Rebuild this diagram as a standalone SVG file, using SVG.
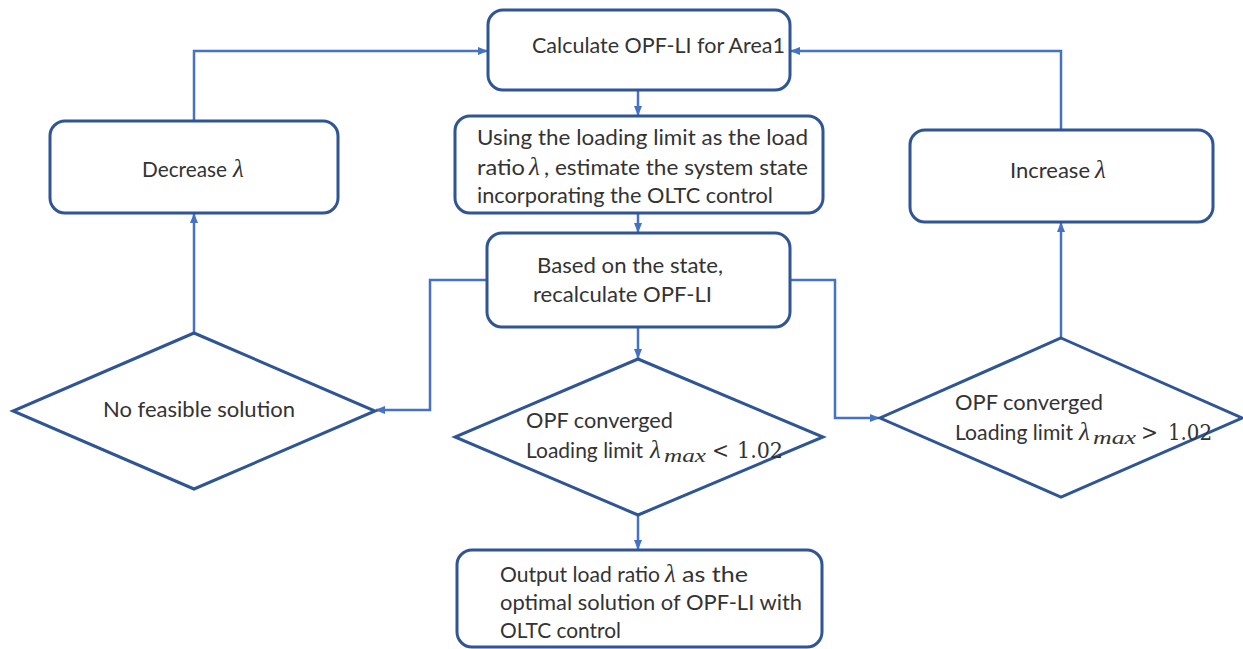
<svg xmlns="http://www.w3.org/2000/svg" width="1243" height="649" viewBox="0 0 1243 649">
  <style>
    .box { fill: #ffffff; stroke: #2F5597; stroke-width: 3; }
    .conn { fill: none; stroke: #4472C4; stroke-width: 2.5; marker-end: url(#arrow); }
    .t { font-family: Lato, "Open Sans", "Liberation Sans", sans-serif; font-size: 22px; fill: #333333; }
    .m { font-family: "Liberation Serif", "DejaVu Serif", serif; font-style: italic; font-size: 25px; fill: #333333; }
    .ms { font-family: "Liberation Serif", "DejaVu Serif", serif; font-style: italic; font-size: 18px; fill: #333333; }
    .n { font-family: "DejaVu Serif", "Liberation Serif", serif; font-size: 22px; fill: #333333; }
  </style>
  <defs>
    <marker id="arrow" markerUnits="userSpaceOnUse" markerWidth="10" markerHeight="10" refX="9" refY="5" orient="auto">
      <path d="M0,1 L10,5 L0,9 z" fill="#4472C4"/>
    </marker>
  </defs>
  <rect width="1243" height="649" fill="#ffffff"/>

  <!-- connectors -->
  <g id="connectors">
    <path class="conn" d="M638,90 V115"/>
    <path class="conn" d="M638,213 V232"/>
    <path class="conn" d="M638,327 V358"/>
    <path class="conn" d="M638,515 V549"/>
    <path class="conn" d="M487,280 H430 V410 H376"/>
    <path class="conn" d="M790,280 H835 V418 H879"/>
    <path class="conn" d="M194,333 V214"/>
    <path class="conn" d="M1061,338 V223"/>
    <path class="conn" d="M194,121 V51 H487"/>
    <path class="conn" d="M1061,130 V51 H791"/>
  </g>

  <!-- start: OPF-LI for Area1 -->
  <g id="calc-opf">
    <rect class="box" x="488" y="10" width="302" height="80" rx="15"/>
    <text class="t" x="532" y="53" textLength="253" lengthAdjust="spacingAndGlyphs">Calculate OPF-LI for Area1</text>
  </g>

  <!-- state estimation with OLTC -->
  <g id="estimate-state">
    <rect class="box" x="455" y="116" width="368" height="97" rx="15"/>
    <text class="t" x="477" y="145" textLength="331" lengthAdjust="spacingAndGlyphs">Using the  loading limit  as the load</text>
    <text class="t" x="477" y="175" textLength="48" lengthAdjust="spacingAndGlyphs">ratio</text>
    <text class="m" x="529" y="175">λ</text>
    <text class="t" x="544" y="175" textLength="264" lengthAdjust="spacingAndGlyphs">, estimate the system state</text>
    <text class="t" x="477" y="203" textLength="296" lengthAdjust="spacingAndGlyphs">incorporating the OLTC control</text>
  </g>

  <!-- recalculation -->
  <g id="recalculate">
    <rect class="box" x="487" y="233" width="303" height="94" rx="15"/>
    <text class="t" x="537" y="273" textLength="186" lengthAdjust="spacingAndGlyphs">Based on the state,</text>
    <text class="t" x="533" y="302" textLength="179" lengthAdjust="spacingAndGlyphs">recalculate  OPF-LI</text>
  </g>

  <!-- decrease load ratio -->
  <g id="decrease">
    <rect class="box" x="50" y="121" width="288" height="92" rx="15"/>
    <text class="t" x="142" y="177" textLength="85" lengthAdjust="spacingAndGlyphs">Decrease</text>
    <text class="m" x="233" y="177">λ</text>
  </g>

  <!-- increase load ratio -->
  <g id="increase">
    <rect class="box" x="910" y="130" width="303" height="92" rx="15"/>
    <text class="t" x="1010" y="178" textLength="80" lengthAdjust="spacingAndGlyphs">Increase</text>
    <text class="m" x="1095" y="178">λ</text>
  </g>

  <!-- infeasible branch -->
  <g id="no-feasible">
    <polygon class="box" points="194,333 375,411 194,489 13,411"/>
    <text class="t" x="103" y="417" textLength="192" lengthAdjust="spacingAndGlyphs">No feasible solution</text>
  </g>

  <!-- converged, below threshold -->
  <g id="converged-low">
    <polygon class="box" points="638,359 823,437 638,515 455,437"/>
    <text class="t" x="526" y="428" textLength="147" lengthAdjust="spacingAndGlyphs">OPF converged</text>
    <text class="t" x="526" y="458" textLength="117" lengthAdjust="spacingAndGlyphs">Loading limit</text>
    <text class="m" x="650" y="458">λ</text>
    <text class="ms" x="664" y="462" textLength="42" lengthAdjust="spacingAndGlyphs">max</text>
    <text class="n" x="712" y="458" textLength="17" lengthAdjust="spacingAndGlyphs">&lt;</text>
    <text class="n" x="737" y="458" textLength="46" lengthAdjust="spacingAndGlyphs">1.02</text>
  </g>

  <!-- converged, above threshold -->
  <g id="converged-high">
    <polygon class="box" points="1061,338 1242,418 1061,497 880,418"/>
    <text class="t" x="955" y="410" textLength="148" lengthAdjust="spacingAndGlyphs">OPF converged</text>
    <text class="t" x="955" y="440" textLength="118" lengthAdjust="spacingAndGlyphs">Loading limit</text>
    <text class="m" x="1079" y="440">λ</text>
    <text class="ms" x="1093" y="444" textLength="43" lengthAdjust="spacingAndGlyphs">max</text>
    <text class="n" x="1141" y="440" textLength="17" lengthAdjust="spacingAndGlyphs">&gt;</text>
    <text class="n" x="1168" y="440" textLength="44" lengthAdjust="spacingAndGlyphs">1.02</text>
  </g>

  <!-- final output -->
  <g id="output">
    <rect class="box" x="457" y="550" width="365" height="97" rx="15"/>
    <text class="t" x="500" y="582" textLength="160" lengthAdjust="spacingAndGlyphs">Output load ratio</text>
    <text class="m" x="665" y="582">λ</text>
    <text class="t" x="682" y="582" textLength="66" lengthAdjust="spacingAndGlyphs">as the</text>
    <text class="t" x="500" y="610" textLength="302" lengthAdjust="spacingAndGlyphs">optimal solution of OPF-LI with</text>
    <text class="t" x="500" y="638" textLength="121" lengthAdjust="spacingAndGlyphs">OLTC control</text>
  </g>
</svg>
